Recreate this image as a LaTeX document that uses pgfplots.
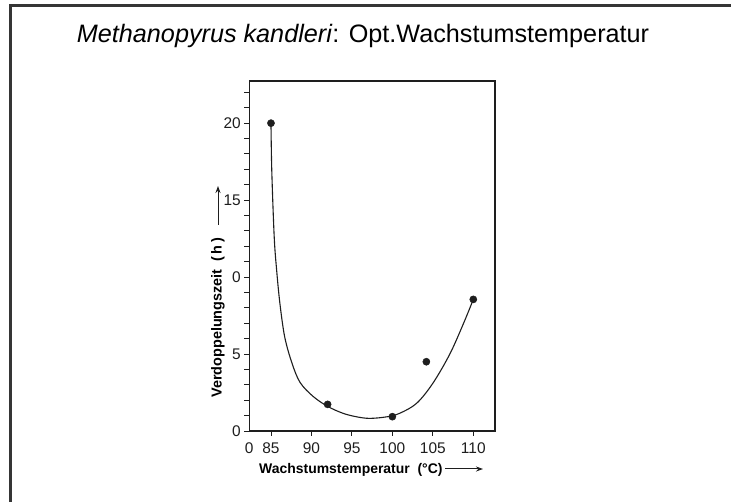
\documentclass[border=0pt]{standalone}
\usepackage{pgfplots}
\pgfplotsset{compat=1.18}
\usetikzlibrary{arrows.meta}
\usepackage{fontspec}
\setmainfont{Liberation Sans}
\definecolor{ink}{HTML}{1E1E1E}
\begin{document}
\begin{tikzpicture}[x=1bp,y=1bp]
\path[use as bounding box] (0,0) rectangle (731,502);
\fill[white] (0,0) rectangle (731,502);
\draw[line width=3bp, color=ink!90] (10.5,0) -- (10.5,496) -- (731,496);
\node[anchor=base, inner sep=0pt] at (363,459) {\fontsize{25.3}{30}\selectfont\textit{Methanopyrus kandleri}: Opt.Wachstumstemperatur};
\begin{axis}[
  at={(249.3bp,71bp)}, anchor=south west,
  scale only axis, width=245.7bp, height=350bp,
  xmin=82.32, xmax=112.68, ymin=0, ymax=22.74,
  axis line style={line width=1.3bp, color=ink},
  tick align=outside,
  xtick={85,90,95,100,105,110},
  extra x ticks={82.32}, extra x tick labels={0},
  extra x tick style={major tick length=0pt, xticklabel style={yshift=-5bp}},
  ytick={0,5,10,15,20}, yticklabels={0,5,0,15,20},
  minor ytick={1,2,3,4,6,7,8,9,11,12,13,14,16,17,18,19,21,22},
  major tick length=5bp, minor tick length=5bp,
  tick style={line width=0.9bp, color=ink},
  xtick pos=bottom, ytick pos=left,
  /pgf/number format/assume math mode=true,
  ticklabel style={font=\fontsize{15.5}{16}\selectfont, color=ink},
  xticklabel style={yshift=-3bp},
  clip=false,
]
\addplot[smooth, tension=0.55, line width=1.1bp, color=ink] coordinates {
 (85,20) (85.1,16.9) (85.4,12.6) (85.7,10.45) (86.1,8.3) (86.7,6.1) (87.6,4.4)
 (88.6,3.15) (90.2,2.25) (92,1.6) (93.9,1.15) (95.6,0.92) (97.2,0.82) (99.3,0.92)
 (100.9,1.15) (103,1.8) (105,3.1) (107.1,5.0) (108.8,7.0) (110,8.55)};
\addplot[only marks, mark=*, mark size=3.6bp, color=ink] coordinates {
 (85,20) (92,1.73) (100,0.93) (104.2,4.5) (110,8.55)};
\draw[line width=0.9bp, color=ink] (axis cs:82.8,0) ++(0,-3bp) -- ++(0,6bp);
\draw[line width=0.9bp, color=ink] (axis cs:83.15,0) ++(0,-3bp) -- ++(0,6bp);
\end{axis}
\node[anchor=base west, inner sep=0pt, rotate=90] at (221.5,104) {\fontsize{14.5}{15}\selectfont\bfseries Verdoppelungszeit\ \ (\,h\,)};
\draw[-{Stealth[length=7bp,width=5bp]}, line width=1bp, color=ink] (218,277) -- (218,316);
\node[anchor=base west, inner sep=0pt] at (259,28) {\fontsize{14}{15}\selectfont\bfseries Wachstumstemperatur\ \ (°C)};
\draw[-{Stealth[length=7bp,width=5bp]}, line width=1bp, color=ink] (445,33) -- (483,33);
\end{tikzpicture}
\end{document}
